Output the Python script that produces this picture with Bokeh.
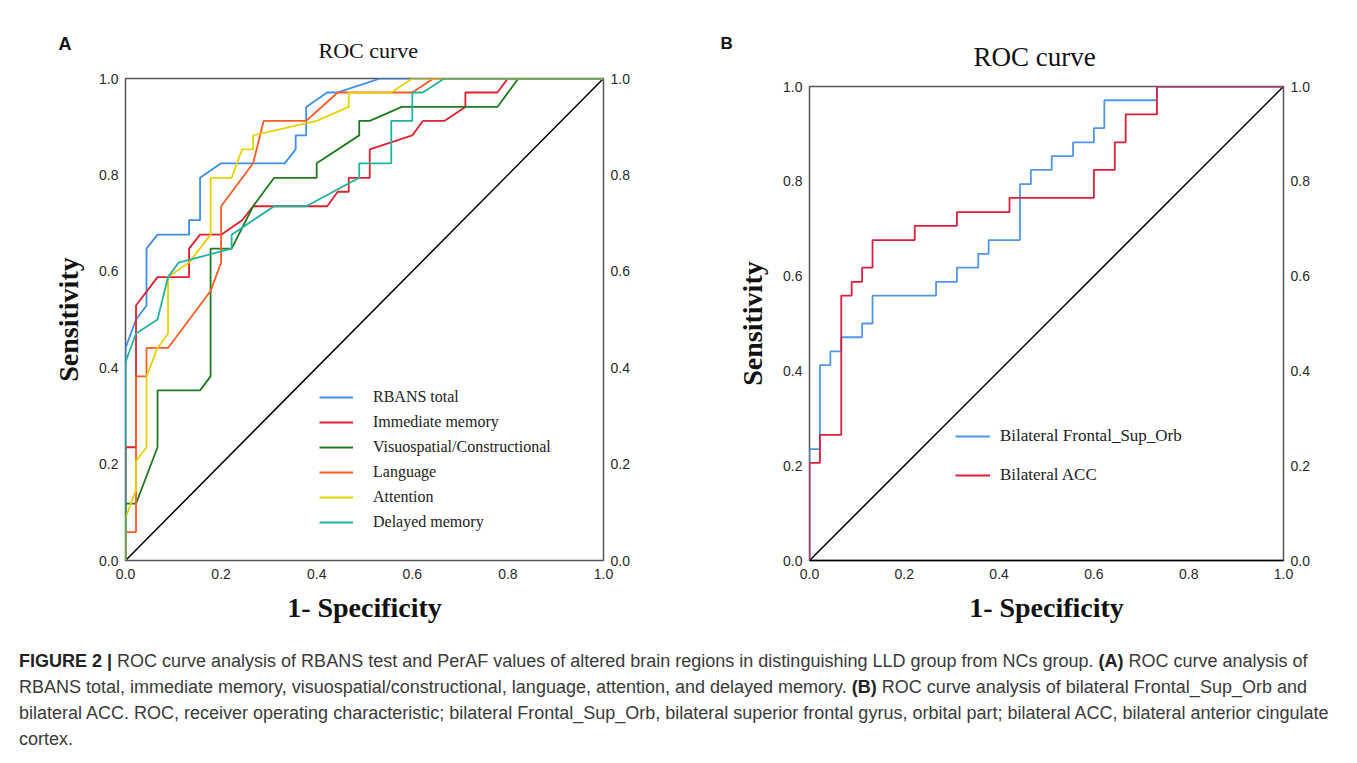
from bokeh.plotting import figure
from bokeh.models import Range1d, LinearAxis, FixedTicker, Legend, LegendItem, Title, Div, Spacer
from bokeh.layouts import row, column
from bokeh.embed import file_html
from bokeh.resources import INLINE

# ---------------- data ----------------
TICKS = [0.0, 0.2, 0.4, 0.6, 0.8, 1.0]
TICK_LABELS = ["0.0", "0.2", "0.4", "0.6", "0.8", "1.0"]

# Panel A: RBANS ROC curves (1 - specificity, sensitivity)
rbans_total_x = [0, 0, 0.022, 0.044, 0.044, 0.067, 0.133, 0.133, 0.156, 0.156, 0.200, 0.333, 0.356, 0.356, 0.378, 0.378, 0.422, 0.444, 0.533, 1.0]
rbans_total_y = [0, 0.441, 0.500, 0.529, 0.647, 0.676, 0.676, 0.706, 0.706, 0.794, 0.824, 0.824, 0.853, 0.882, 0.882, 0.941, 0.971, 0.971, 1.0, 1.0]

immediate_x = [0, 0, 0.022, 0.022, 0.067, 0.133, 0.133, 0.156, 0.200, 0.244, 0.267, 0.422, 0.444, 0.467, 0.467, 0.511, 0.511, 0.600, 0.622, 0.667, 0.711, 0.711, 0.778, 0.800, 1.0]
immediate_y = [0, 0.235, 0.235, 0.529, 0.588, 0.588, 0.647, 0.676, 0.676, 0.706, 0.735, 0.735, 0.765, 0.765, 0.794, 0.794, 0.853, 0.882, 0.912, 0.912, 0.941, 0.971, 0.971, 1.0, 1.0]

visuo_x = [0, 0, 0.022, 0.067, 0.067, 0.156, 0.178, 0.178, 0.222, 0.267, 0.311, 0.400, 0.400, 0.489, 0.489, 0.511, 0.578, 0.778, 0.822, 1.0]
visuo_y = [0, 0.118, 0.118, 0.235, 0.353, 0.353, 0.382, 0.647, 0.647, 0.735, 0.794, 0.794, 0.824, 0.882, 0.912, 0.912, 0.941, 0.941, 1.0, 1.0]

language_x = [0, 0, 0.022, 0.022, 0.044, 0.044, 0.089, 0.178, 0.200, 0.200, 0.267, 0.289, 0.378, 0.444, 0.600, 0.644, 1.0]
language_y = [0, 0.059, 0.059, 0.382, 0.382, 0.441, 0.441, 0.559, 0.618, 0.735, 0.824, 0.912, 0.912, 0.971, 0.971, 1.0, 1.0]

attention_x = [0, 0, 0.022, 0.022, 0.044, 0.044, 0.067, 0.089, 0.089, 0.133, 0.178, 0.178, 0.222, 0.244, 0.267, 0.267, 0.400, 0.467, 0.467, 0.556, 0.600, 1.0]
attention_y = [0, 0.088, 0.147, 0.206, 0.235, 0.382, 0.441, 0.471, 0.588, 0.618, 0.676, 0.794, 0.794, 0.853, 0.853, 0.882, 0.912, 0.941, 0.971, 0.971, 1.0, 1.0]

delayed_x = [0, 0, 0.022, 0.067, 0.089, 0.111, 0.222, 0.222, 0.311, 0.378, 0.489, 0.489, 0.556, 0.556, 0.600, 0.600, 0.622, 0.667, 1.0]
delayed_y = [0, 0.412, 0.471, 0.500, 0.588, 0.618, 0.647, 0.676, 0.735, 0.735, 0.794, 0.824, 0.824, 0.912, 0.912, 0.971, 0.971, 1.0, 1.0]

series_a_names = ["RBANS total", "Immediate memory", "Visuospatial/Constructional", "Language", "Attention", "Delayed memory"]

# Panel B: PerAF ROC curves
frontal_x = [0, 0, 0.022, 0.022, 0.044, 0.044, 0.067, 0.067, 0.111, 0.111, 0.133, 0.133, 0.267, 0.267, 0.311, 0.311, 0.356, 0.356, 0.378, 0.378, 0.444, 0.444, 0.467, 0.467, 0.511, 0.511, 0.556, 0.556, 0.600, 0.600, 0.622, 0.622, 0.733, 0.733, 1.0]
frontal_y = [0, 0.235, 0.235, 0.412, 0.412, 0.441, 0.441, 0.471, 0.471, 0.500, 0.500, 0.559, 0.559, 0.588, 0.588, 0.618, 0.618, 0.647, 0.647, 0.676, 0.676, 0.794, 0.794, 0.824, 0.824, 0.853, 0.853, 0.882, 0.882, 0.912, 0.912, 0.971, 0.971, 1.0, 1.0]

acc_x = [0, 0, 0.022, 0.022, 0.067, 0.067, 0.089, 0.089, 0.111, 0.111, 0.133, 0.133, 0.222, 0.222, 0.311, 0.311, 0.422, 0.422, 0.600, 0.600, 0.644, 0.644, 0.667, 0.667, 0.733, 0.733, 1.0]
acc_y = [0, 0.206, 0.206, 0.265, 0.265, 0.559, 0.559, 0.588, 0.588, 0.618, 0.618, 0.676, 0.676, 0.706, 0.706, 0.735, 0.735, 0.765, 0.765, 0.824, 0.824, 0.882, 0.882, 0.941, 0.941, 1.0, 1.0]

series_b_names = ["Bilateral Frontal_Sup_Orb", "Bilateral ACC"]

ref_x = [0.0, 1.0]
ref_y = [0.0, 1.0]

COLORS_A = ["#3d8ef0", "#e0202e", "#1e7b1e", "#ff5a24", "#e6d200", "#20b4a0"]
COLORS_B = ["#4f96ec", "#dc1e3c"]

SERIF = "Liberation Serif"
SANS = "Liberation Sans"


def make_panel(fw, fh, bl, br, bt, bb, label_size, title_size, title_standoff, title_offset,
               letter, letter_offset, letter_standoff, letter_size):
    p = figure(frame_width=fw, frame_height=fh, x_range=Range1d(0, 1), y_range=Range1d(0, 1),
               output_backend="svg", toolbar_location=None,
               min_border_left=bl, min_border_right=br, min_border_top=bt, min_border_bottom=bb,
               background_fill_color="white", border_fill_color="white")
    p.xgrid.visible = False
    p.ygrid.visible = False
    p.outline_line_color = "#555555"
    p.outline_line_width = 1.5
    p.add_layout(LinearAxis(), "right")
    overrides = {t: l for t, l in zip(TICKS, TICK_LABELS)}
    for ax in p.axis:
        ax.ticker = FixedTicker(ticks=TICKS)
        ax.major_label_overrides = overrides
        ax.major_tick_line_color = None
        ax.minor_tick_line_color = None
        ax.major_tick_out = 0
        ax.major_tick_in = 0
        ax.axis_line_color = None
        ax.major_label_text_font = SANS
        ax.major_label_text_font_size = "14px"
        ax.major_label_text_color = "#2a2a2a"
        ax.major_label_standoff = 7
    p.xaxis.axis_label = "1- Specificity"
    p.yaxis[0].axis_label = "Sensitivity"
    for ax in [p.xaxis[0], p.yaxis[0]]:
        ax.axis_label_text_font = SERIF
        ax.axis_label_text_font_size = label_size
        ax.axis_label_text_font_style = "bold"
        ax.axis_label_text_color = "#111111"
    p.xaxis[0].major_label_standoff = 8
    p.xaxis[0].axis_label_standoff = 10
    p.yaxis[0].axis_label_standoff = 12
    # panel letter (outermost title row)
    p.title.text = letter
    p.title.align = "left"
    p.title.offset = letter_offset
    p.title.standoff = letter_standoff
    p.title.text_font = SANS
    p.title.text_font_size = letter_size
    p.title.text_font_style = "bold"
    p.title.text_color = "#111111"
    # chart title (row next to the frame)
    p.add_layout(Title(text="ROC curve", align="left", offset=title_offset, standoff=title_standoff,
                       text_font=SERIF, text_font_size=title_size, text_font_style="normal",
                       text_color="#111111"), "above")
    p.line(ref_x, ref_y, line_color="black", line_width=1.5)
    return p


# ---------------- panel A ----------------
pA = make_panel(478, 482, 125, 77, 78, 70, "28px", "22px", 32, 193, "A", -67, -69, "18px")
series_a = [(rbans_total_x, rbans_total_y), (immediate_x, immediate_y), (visuo_x, visuo_y),
            (language_x, language_y), (attention_x, attention_y), (delayed_x, delayed_y)]
items_a = []
for (xs, ys), name, col in zip(series_a, series_a_names, COLORS_A):
    r = pA.line(xs, ys, line_color=col, line_width=1.8)
    items_a.append(LegendItem(label=name, renderers=[r]))
legA = Legend(items=items_a, location=(194, 28), glyph_width=34, glyph_height=20, label_height=20,
              label_standoff=20, spacing=5, padding=0, margin=0, border_line_color=None,
              background_fill_alpha=0, label_text_font=SERIF, label_text_font_size="16px",
              label_text_color="#222222")
pA.add_layout(legA)

# ---------------- panel B ----------------
pB = make_panel(474, 474, 129, 58, 78, 70, "28px", "27px", 30, 164, "B", -89, -56, "17px")
pB.xaxis[0].axis_line_color = "black"
pB.xaxis[0].axis_line_width = 1.5
series_b = [(frontal_x, frontal_y), (acc_x, acc_y)]
items_b = []
for (xs, ys), name, col in zip(series_b, series_b_names, COLORS_B):
    r = pB.line(xs, ys, line_color=col, line_width=1.8)
    items_b.append(LegendItem(label=name, renderers=[r]))
legB = Legend(items=items_b, location=(146, 75), glyph_width=35, glyph_height=20, label_height=20,
              label_standoff=10, spacing=19, padding=0, margin=0, border_line_color=None,
              background_fill_alpha=0, label_text_font=SERIF, label_text_font_size="17px",
              label_text_color="#222222")
pB.add_layout(legB)

# ---------------- caption ----------------
caption_html = (
    "<div style=\"font-family:'Liberation Sans',Arial,sans-serif;font-size:18px;line-height:26px;"
    "white-space:nowrap;color:#3a3a3a;padding-left:14px;padding-top:13px;\">"
    "<b style='color:#222'>FIGURE 2 |</b> ROC curve analysis of RBANS test and PerAF values of altered brain regions "
    "in distinguishing LLD group from NCs group. <b style='color:#222'>(A)</b> ROC curve analysis of<br>"
    "RBANS total, immediate memory, visuospatial/constructional, language, attention, and delayed memory. "
    "<b style='color:#222'>(B)</b> ROC curve analysis of bilateral Frontal_Sup_Orb and<br>"
    "bilateral ACC. ROC, receiver operating characteristic; bilateral Frontal_Sup_Orb, bilateral superior "
    "frontal gyrus, orbital part; bilateral ACC, bilateral anterior cingulate<br>"
    "cortex.</div>"
)
cap = Div(text=caption_html, width=1341, height=120)

layout = column(row(pA, column(Spacer(width=661, height=8), pB)), cap)

with open("out.html", "w") as f:
    f.write(file_html(layout, INLINE))
